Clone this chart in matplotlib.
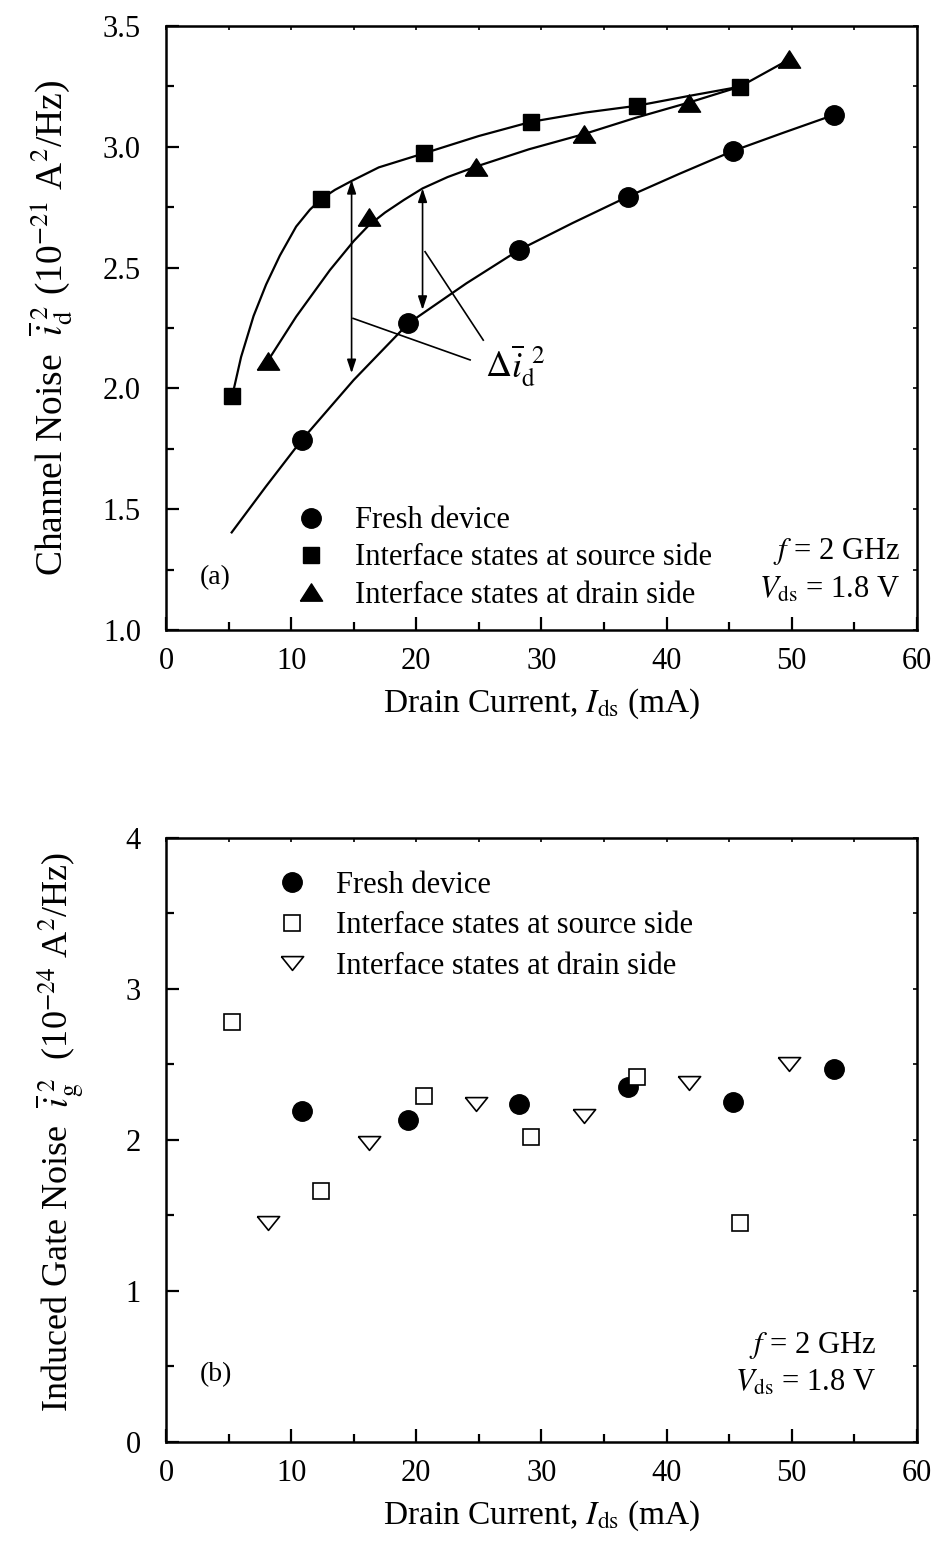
import matplotlib
matplotlib.use("Agg")
import matplotlib.pyplot as plt
from matplotlib.ticker import MultipleLocator, FormatStrFormatter

plt.rcParams['font.family'] = ['Liberation Serif', 'DejaVu Serif']
plt.rcParams['mathtext.fontset'] = 'stix'

# ------------------------------------------------------
# data
# ------------------------------------------------------
fresh_x = [10.84, 19.36, 28.2, 36.9, 45.3, 53.35]
source_x = [5.3, 12.4, 20.6, 29.2, 37.6, 45.85]
drain_x = [8.15, 16.2, 24.75, 33.4, 41.75, 49.8]

# (a) channel noise, 1e-21 A^2/Hz
fresh_id = [1.786, 2.269, 2.573, 2.794, 2.983, 3.132]
source_id = [1.97, 2.784, 2.973, 3.104, 3.17, 3.249]
drain_id = [2.115, 2.708, 2.918, 3.053, 3.183, 3.362]

# fitted curves
fresh_fit_x = [5.25, 8.0, 10.84, 15.0, 19.36, 24.0, 28.2, 32.5, 36.9, 41.0, 45.3, 49.3, 53.35]
fresh_fit_y = [1.404, 1.595, 1.786, 2.035, 2.269, 2.435, 2.573, 2.685, 2.794, 2.888, 2.983, 3.058, 3.132]
source_fit_x = [5.3, 6.0, 7.0, 8.0, 9.1, 10.4, 11.5, 12.4, 13.5, 14.8, 17.0, 20.6, 25.0, 29.2, 33.5, 37.6, 41.7, 45.85]
source_fit_y = [1.97, 2.13, 2.30, 2.43, 2.55, 2.67, 2.74, 2.784, 2.822, 2.858, 2.915, 2.973, 3.045, 3.104, 3.142, 3.17, 3.21, 3.249]
drain_fit_x = [8.15, 10.4, 13.1, 15.0, 16.2, 17.5, 19.0, 20.5, 22.5, 24.75, 29.0, 33.4, 37.5, 41.75, 45.85, 49.8]
drain_fit_y = [2.115, 2.297, 2.49, 2.61, 2.675, 2.728, 2.78, 2.828, 2.875, 2.918, 2.99, 3.053, 3.12, 3.183, 3.249, 3.362]

# (b) induced gate noise, 1e-24 A^2/Hz
fresh_ig = [2.19, 2.13, 2.24, 2.35, 2.25, 2.47]
source_ig = [2.78, 1.66, 2.29, 2.02, 2.42, 1.45]
drain_ig = [1.45, 1.98, 2.24, 2.16, 2.38, 2.50]

labels = ['Fresh device', 'Interface states at source side', 'Interface states at drain side']

# delta annotations in panel (a)
arrow_x = [14.83, 20.5]
arrow_top = [2.863, 2.828]
arrow_bot = [2.063, 2.325]
leader_start = [(14.95, 2.29), (20.7, 2.566)]
leader_end = [(24.3, 2.118), (25.35, 2.20)]

TICK_FS = 22
XLABEL_FS = 24
LEG_FS = 22

tri_up = [(-1, -0.78), (1, -0.78), (0, 0.78), (-1, -0.78)]
tri_down = [(-1, 0.62), (1, 0.62), (0, -0.62), (-1, 0.62)]

fig = plt.figure(figsize=(9.35, 15.43), dpi=100)
ax1 = fig.add_axes([0.1775, 0.5917, 0.8032, 0.3914])
ax2 = fig.add_axes([0.1775, 0.0655, 0.8032, 0.3914])


def style_axes(ax, ymin, ymax, ymaj, ymin_step):
    ax.set_xlim(0, 60)
    ax.set_ylim(ymin, ymax)
    ax.xaxis.set_major_locator(MultipleLocator(10))
    ax.xaxis.set_minor_locator(MultipleLocator(5))
    ax.yaxis.set_major_locator(MultipleLocator(ymaj))
    ax.yaxis.set_minor_locator(MultipleLocator(ymin_step))
    ax.tick_params(which='both', direction='in', width=1.6, labelsize=TICK_FS)
    ax.tick_params(axis='x', which='both', pad=12)
    ax.tick_params(axis='y', which='both', pad=18)
    ax.tick_params(which='major', length=9.5)
    ax.tick_params(which='minor', length=5.5)
    for s in ax.spines.values():
        s.set_linewidth(1.8)
    # short ticks on top and right
    sx = ax.secondary_xaxis('top')
    sx.set_xticks(range(0, 61, 5))
    sx.tick_params(direction='in', length=3, width=1.2, labeltop=False)
    sy = ax.secondary_yaxis('right')
    sy.set_yticks([ymin + i * ymin_step for i in range(int(round((ymax - ymin) / ymin_step)) + 1)])
    sy.tick_params(direction='in', length=3, width=1.2, labelright=False)
    ax.set_xlabel(r'Drain Current, $I_{\rm ds}$ (mA)', fontsize=XLABEL_FS, labelpad=8)


# ------------------------------------------------------
# (a) channel noise
# ------------------------------------------------------
ax1.plot(fresh_fit_x, fresh_fit_y, 'k-', lw=1.6)
ax1.plot(source_fit_x, source_fit_y, 'k-', lw=1.6)
ax1.plot(drain_fit_x, drain_fit_y, 'k-', lw=1.6)
h1, = ax1.plot(fresh_x, fresh_id, 'o', color='k', ms=14, ls='none', label=labels[0])
h2, = ax1.plot(source_x, source_id, 's', color='k', ms=12, ls='none', label=labels[1])
h3, = ax1.plot(drain_x, drain_id, marker=tri_up, color='k', ms=16, ls='none', label=labels[2])

for x, yt, yb in zip(arrow_x, arrow_top, arrow_bot):
    ax1.annotate('', xy=(x, yt), xytext=(x, yb),
                 arrowprops=dict(arrowstyle='<|-|>,head_length=0.9,head_width=0.3', lw=1.2, color='k',
                                 mutation_scale=9, shrinkA=0, shrinkB=0))
for (xs, ys), (xe, ye) in zip(leader_start, leader_end):
    ax1.plot([xs, xe], [ys, ye], 'k-', lw=1.2)
ax1.text(25.5, 2.047, r'$\Delta\overline{i}_{\rm d}^{\;\;2}$', fontsize=26, va='baseline', ha='left')

style_axes(ax1, 1.0, 3.5, 0.5, 0.25)
ax1.yaxis.set_major_formatter(FormatStrFormatter('%.1f'))
ax1.set_ylabel(r'Channel Noise  $\overline{i}_{\rm d}^{\;2}$ (10$^{-21}$ A$^{2}$/Hz)', fontsize=27)
ax1.yaxis.set_label_coords(-0.121, 0.5)
ax1.legend(handles=[h1, h2, h3], loc='upper left', bbox_to_anchor=(0.173, 0.205),
           frameon=False, fontsize=LEG_FS, handlelength=1.0, handletextpad=0.95,
           labelspacing=0.27, borderpad=0, borderaxespad=0)
ax1.text(0.045, 0.086, '(a)', transform=ax1.transAxes, fontsize=20, va='center')
ax1.text(0.977, 0.13, r'$f$ = 2 GHz', transform=ax1.transAxes, fontsize=LEG_FS, ha='right', va='center')
ax1.text(0.977, 0.066, r'$V_{\rm ds}$ = 1.8 V', transform=ax1.transAxes, fontsize=LEG_FS, ha='right', va='center')

# ------------------------------------------------------
# (b) induced gate noise
# ------------------------------------------------------
g1, = ax2.plot(fresh_x, fresh_ig, 'o', color='k', ms=14, ls='none', label=labels[0])
g2, = ax2.plot(source_x, source_ig, 's', mfc='white', mec='k', mew=1.2, ms=11.5, ls='none', label=labels[1])
g3, = ax2.plot(drain_x, drain_ig, marker=tri_down, mfc='white', mec='k', mew=1.2, ms=16, ls='none', label=labels[2])

style_axes(ax2, 0, 4, 1, 0.5)
ax2.set_ylabel(r'Induced Gate Noise  $\overline{i}_{\rm g}^{\;2}$  (10$^{-24}$ A$^{2}$/Hz)', fontsize=26)
ax2.yaxis.set_label_coords(-0.107, 0.513)
ax2.legend(handles=[g1, g2, g3], loc='upper left', bbox_to_anchor=(0.147, 0.946),
           frameon=False, fontsize=LEG_FS, handlelength=1.0, handletextpad=0.95,
           labelspacing=0.38, borderpad=0, borderaxespad=0)
ax2.text(0.045, 0.111, '(b)', transform=ax2.transAxes, fontsize=20, va='center')
ax2.text(0.945, 0.16, r'$f$ = 2 GHz', transform=ax2.transAxes, fontsize=LEG_FS, ha='right', va='center')
ax2.text(0.945, 0.098, r'$V_{\rm ds}$ = 1.8 V', transform=ax2.transAxes, fontsize=LEG_FS, ha='right', va='center')

plt.savefig('out.png', dpi=100)
